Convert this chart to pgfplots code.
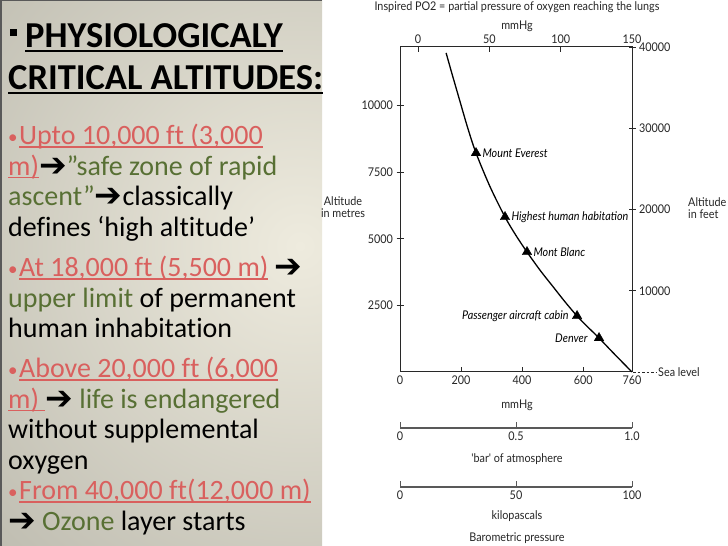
\documentclass[border=0pt]{standalone}
\usepackage{pgfplots}
\pgfplotsset{compat=1.18}
\usepackage{fontspec}
\setmainfont[Ligatures={TeX,NoCommon}]{Carlito}
\newfontfamily\cf[FakeStretch=0.9]{Lato}
\newfontfamily\dv{DejaVu Sans}
\definecolor{rtxt}{RGB}{217,96,94}
\definecolor{gtxt}{RGB}{88,112,52}
\definecolor{pin}{RGB}{238,235,222}
\definecolor{pout}{RGB}{140,139,128}
\definecolor{ax}{RGB}{40,40,40}
\newlength\ulw
\newcommand\ul[1]{\settowidth\ulw{#1}\rlap{\rule[-3pt]{\ulw}{1.5pt}}#1}
\newcommand\ulb[1]{\settowidth\ulw{#1}\rlap{\rule[-4pt]{\ulw}{2pt}}#1}
\newcommand\arr{{\color{black}\dv\fontsize{33}{33}\selectfont\raisebox{-1pt}{➔}}}
\newcommand\bul{\raisebox{1pt}{\fontsize{19}{19}\selectfont•}\hspace{1.5pt}}
\newcommand\cfs{\cf\fontsize{12}{14}\selectfont}
\newcommand\body{\fontsize{28}{28}\selectfont}
\begin{document}
\begin{tikzpicture}[x=1pt,y=1pt]
\useasboundingbox (0,0) rectangle (728,546);
\fill[white] (0,0) rectangle (728,546);
\begin{scope}
\clip (0,0) rectangle (322,546);
\shade[inner color=pin, outer color=pout] (300,300) circle (900);
\end{scope}
\draw[black!65, line width=1.5pt] (0.75,0) -- (0.75,545.25) -- (322,545.25);

% ---- left text ----
\node[anchor=base west, inner sep=0] at (10,546-48) {\fontsize{36.5}{36.5}\selectfont\bfseries\raisebox{12pt}{\rule{6.5pt}{6.5pt}}\hspace{8.5pt}\ulb{PHYSIOLOGICALY}};
\node[anchor=base west, inner sep=0] at (8,546-90) {\fontsize{36.5}{36.5}\selectfont\bfseries\ulb{CRITICAL ALTITUDES:}};
\node[anchor=base west, inner sep=0] at (8,546-145) {\body{\color{rtxt}\bul\ul{Upto 10,000 ft (3,000}}};
\node[anchor=base west, inner sep=0] at (8,546-175.5) {\body{\color{rtxt}\ul{m)}}\arr{\color{gtxt}”safe zone of rapid}};
\node[anchor=base west, inner sep=0] at (8,546-206) {\body{\color{gtxt}ascent”}\arr classically};
\node[anchor=base west, inner sep=0] at (8,546-236.5) {\body defines ‘high altitude’};
\node[anchor=base west, inner sep=0] at (8,546-277) {\body{\color{rtxt}\bul\ul{At 18,000 ft (5,500 m)}} \arr};
\node[anchor=base west, inner sep=0] at (8,546-307.5) {\body{\color{gtxt}upper limit} of permanent};
\node[anchor=base west, inner sep=0] at (8,546-338) {\body human inhabitation};
\node[anchor=base west, inner sep=0] at (8,546-378) {\body{\color{rtxt}\bul\ul{Above 20,000 ft (6,000}}};
\node[anchor=base west, inner sep=0] at (8,546-408.5) {\body{\color{rtxt}\ul{m)\ }}\arr\ {\color{gtxt}life is endangered}};
\node[anchor=base west, inner sep=0] at (8,546-439) {\body without supplemental};
\node[anchor=base west, inner sep=0] at (8,546-469.5) {\body oxygen};
\node[anchor=base west, inner sep=0] at (8,546-500) {\body{\color{rtxt}\bul\ul{From 40,000 ft(12,000 m)}}};
\node[anchor=base west, inner sep=0] at (8,546-530.5) {\body\arr\ {\color{gtxt}Ozone} layer starts};

% ---- main chart ----
\pgfplotsset{every axis/.append style={scale only axis, width=232pt, anchor=south west,
  scaled ticks=false,
  ticklabel style={font=\cfs, text=black!85},
  /pgf/number format/assume math mode=true,
  tick style={ax, line width=0.8pt}}}
\begin{axis}[height=325pt, at={(400pt,174pt)},
  xmin=0, xmax=760, ymin=0, ymax=12192, clip=false,
  axis line style={ax, line width=1pt},
  xtick={0,200,400,600,760}, xticklabels={0,200,400,600,760},
  xtick pos=left, tick align=inside, major tick length=5pt,
  ytick=\empty]
\addplot[smooth, line width=1.3pt, black] coordinates {
 (151,11970) (170,11200) (197,10130) (222,9150) (249,8215) (295,6950)
 (344,5815) (380,5120) (416,4502) (460,3800) (500,3220) (540,2640)
 (580,2101) (615,1690) (652,1275) (700,700) (760,0)};
\addplot[only marks, mark=triangle*, mark size=5.5pt, black] coordinates {
 (249,8215) (344,5815) (416,4502) (580,2101) (652,1275)};
\node[anchor=west, font=\cfs\itshape, xshift=3pt] at (axis cs:249,8215) {Mount Everest};
\node[anchor=west, font=\cfs\itshape, xshift=3pt] at (axis cs:344,5815) {Highest human habitation};
\node[anchor=west, font=\cfs\itshape, xshift=3pt] at (axis cs:416,4502) {Mont Blanc};
\node[anchor=east, font=\cfs\itshape, xshift=-5pt] at (axis cs:580,2101) {Passenger aircraft cabin};
\node[anchor=east, font=\cfs\itshape, xshift=-8pt] at (axis cs:652,1275) {Denver};
\end{axis}
% left metres axis
\begin{axis}[height=325pt, at={(400pt,174pt)},
  xmin=0, xmax=760, ymin=0, ymax=12192,
  hide x axis, axis y line*=left, axis line style={-, ax, line width=1pt},
  ytick={2500,5000,7500,10000}, yticklabels={2500,5000,7500,10000},
  tick align=center, major tick length=7pt]
\addplot[draw=none] coordinates {(0,0)};
\end{axis}
% right feet axis
\begin{axis}[height=325pt, at={(400pt,174pt)},
  xmin=0, xmax=760, ymin=0, ymax=40000,
  hide x axis, axis y line*=right, axis line style={-, ax, line width=1pt},
  ytick={10000,20000,30000,40000}, yticklabels={10000,20000,30000,40000},
  tick align=center, major tick length=7pt]
\addplot[draw=none] coordinates {(0,0)};
\end{axis}
% top PO2 axis
\begin{axis}[height=325pt, at={(400pt,174pt)},
  xmin=-12.6, xmax=150, ymin=0, ymax=1,
  hide y axis, axis x line*=top, axis line style={-, ax, line width=1pt},
  xtick={0,50,100,150}, xticklabels={0,50,100,150},
  tick align=inside, major tick length=5pt]
\addplot[draw=none] coordinates {(0,0)};
\end{axis}
% bar scale
\begin{axis}[height=20pt, at={(400pt,118pt)},
  xmin=0, xmax=1, ymin=0, ymax=1,
  hide y axis, axis x line*=bottom, axis line style={-, black!65, line width=1.4pt},
  xtick={0,0.5,1}, xticklabels={0,0.5,1.0},
  tick align=inside, major tick length=6pt, tick style={black!65, line width=0.8pt}]
\addplot[draw=none] coordinates {(0,0)};
\end{axis}
% kPa scale
\begin{axis}[height=20pt, at={(400pt,59pt)},
  xmin=0, xmax=100, ymin=0, ymax=1,
  hide y axis, axis x line*=bottom, axis line style={-, black!65, line width=1.4pt},
  xtick={0,50,100}, xticklabels={0,50,100},
  tick align=inside, major tick length=6pt, tick style={black!65, line width=0.8pt}]
\addplot[draw=none] coordinates {(0,0)};
\end{axis}

% chart texts
\node[font=\cfs, text=black!85] at (517,546-7) {Inspired PO2 = partial pressure of oxygen reaching the lungs};
\node[font=\cfs, text=black!85] at (517,546-26) {mmHg};
\node[font=\cfs, text=black!85] at (517,546-405) {mmHg};
\node[font=\cfs, text=black!85] at (517,546-459) {'bar' of atmosphere};
\node[font=\cfs, text=black!85] at (517,546-516) {kilopascals};
\node[font=\cfs, text=black!85] at (517,546-538) {Barometric pressure};
\node[font=\cfs, text=black!85, align=center] at (343,546-207) {Altitude\\[-2pt]in metres};
\node[font=\cfs, text=black!85, align=left, anchor=west, inner sep=0] at (688,546-208) {Altitude\\[-2pt]in feet};
\draw[ax, line width=0.7pt, dash pattern=on 2.5pt off 2pt] (633,174) -- (657,174);
\node[font=\cfs, text=black!85, anchor=west, inner sep=1pt] at (657,174) {Sea level};
\end{tikzpicture}
\end{document}
